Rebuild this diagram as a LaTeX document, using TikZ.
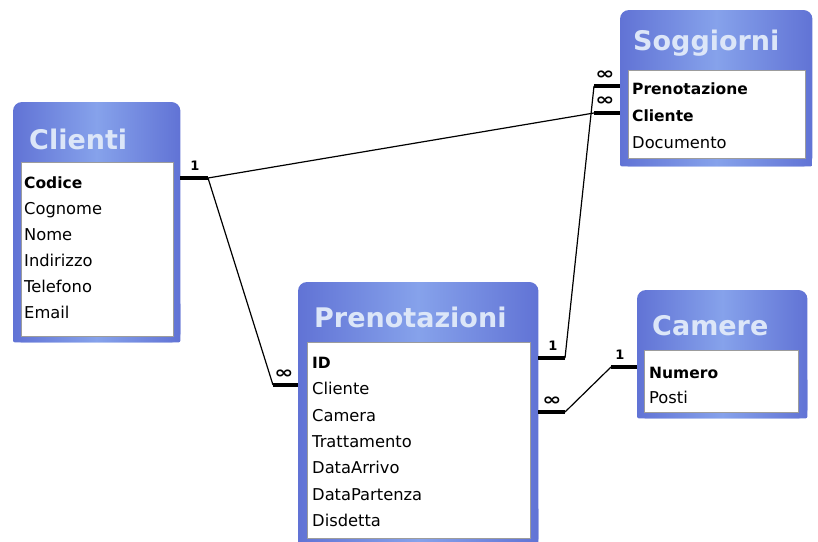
\documentclass[tikz,border=0pt]{standalone}
\usepackage{fontspec}
\setmainfont{DejaVu Sans}
\definecolor{frameedge}{HTML}{6173D5}
\definecolor{framemid}{HTML}{86A2EB}
\definecolor{titletext}{HTML}{DCE6F8}
\definecolor{inboxline}{HTML}{9C9C9C}
\tikzset{
  tabbox/.style={draw=none, inner sep=0, anchor=north west},
  tabshade/.style={left color=frameedge, right color=frameedge, middle color=framemid},
  inbox/.style={fill=white, draw=inboxline, line width=1.4pt},
  tabtitle/.style={anchor=base west, text=titletext, font=\fontsize{27}{27}\selectfont\bfseries, inner sep=0},
  field/.style={anchor=base west, font=\fontsize{16.3}{17}\selectfont, inner sep=0},
  keyfield/.style={anchor=base west, font=\fontsize{15.5}{16}\selectfont\bfseries, inner sep=0},
  stub/.style={line width=4pt},
  link/.style={line width=1.2pt},
  one/.style={font=\fontsize{13}{13}\selectfont\bfseries, inner sep=0},
  many/.style={font=\fontsize{17}{17}\selectfont\bfseries, inner sep=0},
}
\newcommand\drawframe[1]{%
  \shade[tabshade, rounded corners=9pt] (#1.north west) rectangle (#1.south east);
  \shade[tabshade, rounded corners=2pt] ([yshift=40pt]#1.south west) rectangle (#1.south east);
}
\newcommand\manysym{\scalebox{1.35}[1]{∞}}
\begin{document}
\begin{tikzpicture}[x=1pt, y=-1pt]
\useasboundingbox (0,0) rectangle (818,541);
\clip (0,0) rectangle (818,541);
\fill[white] (0,0) rectangle (818,541);

% ---------- Clienti ----------
\node[tabbox, minimum width=167pt, minimum height=240pt] (clienti) at (13,102) {};
\drawframe{clienti}
\node[tabbox, inbox, minimum width=152pt, minimum height=174pt] (clientiin) at (21,162) {};
\node[tabtitle] (clientit) at (29,149) {Clienti};
\node[keyfield] (cl-codice) at (24,188) {Codice};
\node[field] (cl-cognome) at (24,214) {Cognome};
\node[field] (cl-nome) at (24,240) {Nome};
\node[field] (cl-indirizzo) at (24,266) {Indirizzo};
\node[field] (cl-telefono) at (24,292) {Telefono};
\node[field] (cl-email) at (24,318) {Email};

% ---------- Soggiorni ----------
\node[tabbox, minimum width=192pt, minimum height=156pt] (soggiorni) at (620,10) {};
\drawframe{soggiorni}
\node[tabbox, inbox, minimum width=177pt, minimum height=88pt] (soggiorniin) at (628,70) {};
\node[tabtitle] (soggiornit) at (633,50) {Soggiorni};
\node[keyfield] (so-pren) at (632,94) {Prenotazione};
\node[keyfield] (so-cliente) at (632,121) {Cliente};
\node[field] (so-doc) at (632,148) {Documento};

% ---------- Prenotazioni ----------
\node[tabbox, minimum width=240pt, minimum height=265pt] (prenotazioni) at (298,282) {};
\drawframe{prenotazioni}
\node[tabbox, inbox, minimum width=223pt, minimum height=196pt] (prenotazioniin) at (307,342) {};
\node[tabtitle] (prenotazionit) at (314,327) {Prenotazioni};
\node[keyfield] (pr-id) at (312,368) {ID};
\node[field] (pr-cliente) at (312,394) {Cliente};
\node[field] (pr-camera) at (312,421) {Camera};
\node[field] (pr-tratt) at (312,447) {Trattamento};
\node[field] (pr-arrivo) at (312,473) {DataArrivo};
\node[field] (pr-partenza) at (312,500) {DataPartenza};
\node[field] (pr-disdetta) at (312,526) {Disdetta};

% ---------- Camere ----------
\node[tabbox, minimum width=170pt, minimum height=128pt] (camere) at (637,290) {};
\drawframe{camere}
\node[tabbox, inbox, minimum width=154pt, minimum height=62pt] (camerein) at (644,350) {};
\node[tabtitle] (cameret) at (652,335) {Camere};
\node[keyfield] (ca-numero) at (649,378) {Numero};
\node[field] (ca-posti) at (649,403) {Posti};

% ---------- connector end points ----------
\coordinate (c1) at (208,178);
\coordinate (c2) at (594,113);
\coordinate (c3) at (273,385);
\coordinate (c4) at (565,358);
\coordinate (c5) at (594,86);
\coordinate (c6) at (565,412);
\coordinate (c7) at (611,367);

% Clienti -> Soggiorni.Cliente
\draw[stub] (clienti.east |- c1) -- (c1);
\draw[link] (c1) -- (c2);
\draw[stub] (c2) -- (soggiorni.west |- c2);
% Clienti -> Prenotazioni.Cliente
\draw[link] (c1) -- (c3);
\draw[stub] (c3) -- (prenotazioni.west |- c3);
% Prenotazioni.ID -> Soggiorni.Prenotazione
\draw[stub] (prenotazioni.east |- c4) -- (c4);
\draw[link] (c4) -- (c5);
\draw[stub] (c5) -- (soggiorni.west |- c5);
% Prenotazioni.Camera -> Camere.Numero
\draw[stub] (prenotazioni.east |- c6) -- (c6);
\draw[link] (c6) -- (c7);
\draw[stub] (c7) -- (camere.west |- c7);

% cardinality labels
\node[one] (l1) at (195,166) {1};
\node[many] (l2) at (605,75) {\manysym};
\node[many] (l3) at (605,101) {\manysym};
\node[many] (l4) at (284,374) {\manysym};
\node[one] (l5) at (553,346) {1};
\node[many] (l6) at (552,401) {\manysym};
\node[one] (l7) at (620,355) {1};
\end{tikzpicture}
\end{document}
